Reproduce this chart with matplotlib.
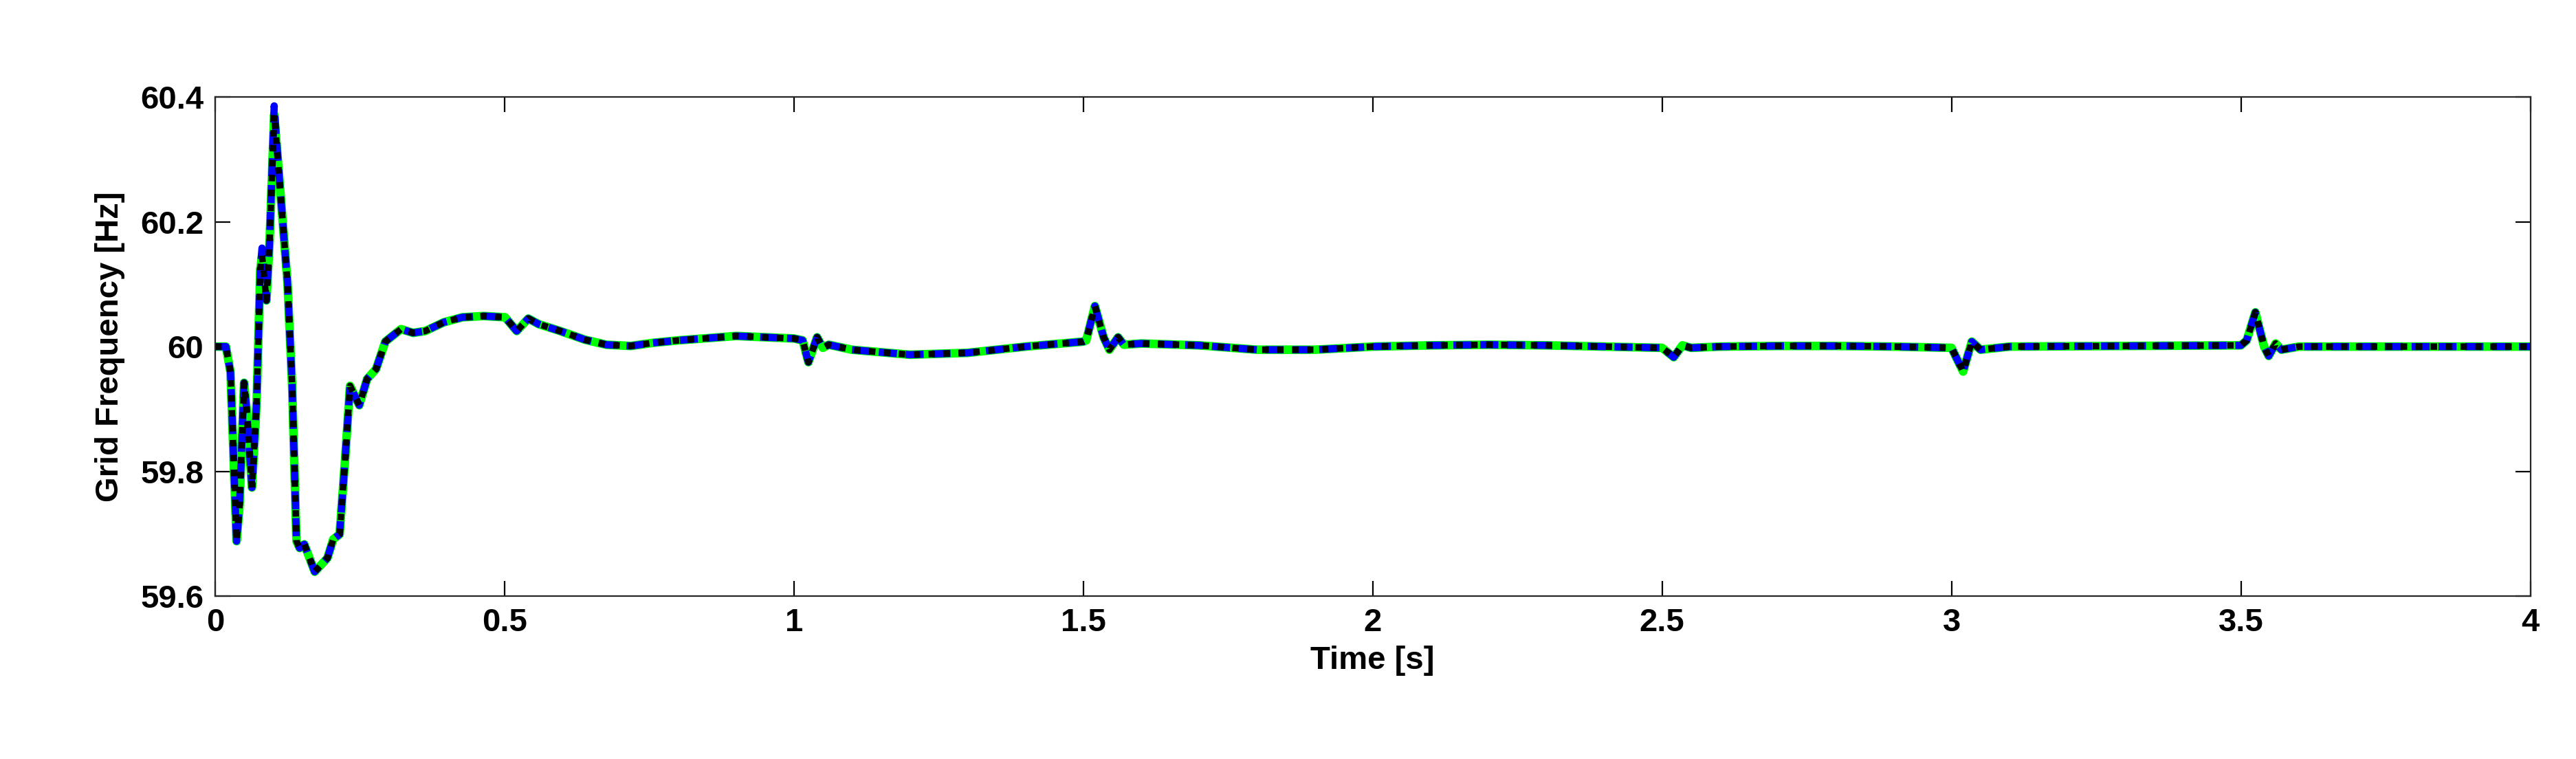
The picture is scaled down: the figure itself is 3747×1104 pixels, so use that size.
import numpy as np
import matplotlib

matplotlib.use("Agg")
import matplotlib.pyplot as plt

plt.rcParams["font.family"] = ["Liberation Sans", "DejaVu Sans"]
plt.rcParams["font.weight"] = "bold"

# grid frequency trace
t = [0, 0.0186, 0.0265, 0.037, 0.042, 0.050, 0.054, 0.0636, 0.0716, 0.078,
     0.081, 0.0886, 0.094, 0.102, 0.111, 0.125, 0.133, 0.1405, 0.146, 0.154,
     0.172, 0.194, 0.204, 0.215, 0.225, 0.233, 0.249, 0.2625, 0.278, 0.294,
     0.321, 0.342, 0.363, 0.395, 0.427, 0.464, 0.501, 0.521, 0.541, 0.559,
     0.596, 0.639, 0.676, 0.718, 0.756, 0.8, 0.9, 1.0, 1.015, 1.025,
     1.04, 1.05, 1.06, 1.1, 1.2, 1.3, 1.4, 1.5, 1.505, 1.52,
     1.535, 1.545, 1.56, 1.57, 1.6, 1.7, 1.8, 1.9, 2.0, 2.1,
     2.2, 2.3, 2.4, 2.5, 2.52, 2.535, 2.55, 2.6, 2.7, 2.8,
     2.9, 3.0, 3.02, 3.035, 3.05, 3.1, 3.5, 3.51, 3.525, 3.54,
     3.548, 3.56, 3.57, 3.6, 4.0]
f_green = [60.0, 60.0, 59.959, 59.688, 59.743, 59.942, 59.903, 59.774, 59.91, 60.124,
           60.146, 60.074, 60.168, 60.372, 60.268, 60.102, 59.937, 59.688, 59.677, 59.683,
           59.639, 59.661, 59.691, 59.699, 59.826, 59.937, 59.906, 59.948, 59.964, 60.008,
           60.028, 60.022, 60.025, 60.039, 60.047, 60.049, 60.047, 60.025, 60.045, 60.036,
           60.025, 60.011, 60.003, 60.001, 60.006, 60.01, 60.017, 60.013, 60.01, 59.975,
           60.015, 59.998, 60.003, 59.995, 59.987, 59.99, 60.0, 60.008, 60.01, 60.065,
           60.015, 59.995, 60.015, 60.003, 60.005, 60.002, 59.995, 59.995, 60.0, 60.002,
           60.003, 60.002, 60.0, 59.998, 59.983, 60.002, 59.998, 60.0, 60.001, 60.001,
           60.0, 59.998, 59.96, 60.008, 59.995, 60.0, 60.002, 60.01, 60.055, 60.0,
           59.985, 60.005, 59.995, 60.0, 60.0]
# blue overshoots slightly at the two early peaks
f_blue = list(f_green)
f_blue[10] = 60.158
f_blue[13] = 60.386

fig = plt.figure(figsize=(18.74, 5.52), dpi=200)
ax = fig.add_axes([0.0835, 0.2147, 0.8985, 0.6573])

ax.plot(t, f_green, color="#00ff00", lw=4.5, ls="-")
ax.plot(t, f_blue, color="#0000ff", lw=3.8, ls="--", dashes=(2.5, 1.2))
ax.plot(t, f_green, color="black", lw=3.4, ls=":", dashes=(1.0, 1.3))

ax.set_xlim(0, 4)
ax.set_ylim(59.6, 60.4)
ax.set_xticks(np.arange(0, 4.01, 0.5))
ax.set_xticklabels(["0", "0.5", "1", "1.5", "2", "2.5", "3", "3.5", "4"])
ax.set_yticks([59.6, 59.8, 60, 60.2, 60.4])
ax.set_yticklabels(["59.6", "59.8", "60", "60.2", "60.4"])
ax.tick_params(direction="in", length=8, width=0.8, labelsize=17, top=True, right=True, pad=6)
for s in ax.spines.values():
    s.set_linewidth(0.8)
    s.set_color("#262626")
ax.set_xlabel("Time [s]", fontsize=17, fontweight="bold", labelpad=4)
ax.set_ylabel("Grid Frequency [Hz]", fontsize=17, fontweight="bold", labelpad=8)

fig.savefig("out.png", dpi=200)
